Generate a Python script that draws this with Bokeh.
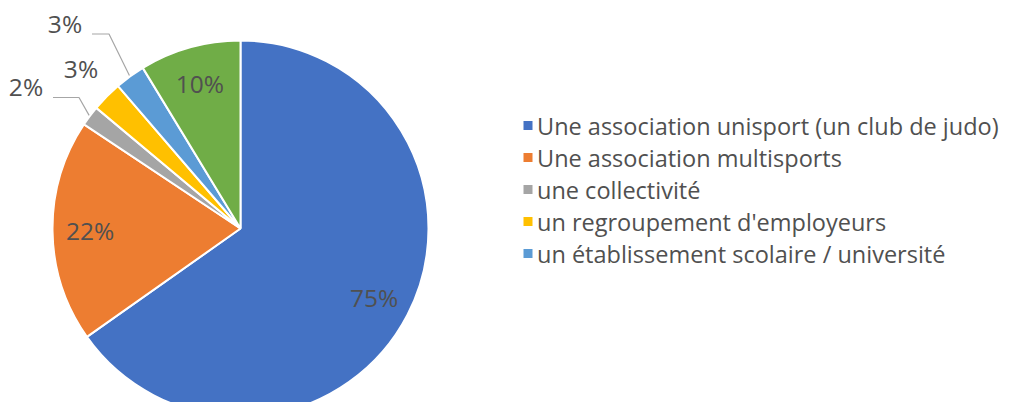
import numpy as np
from bokeh.plotting import figure
from bokeh.models import Range1d
from bokeh.core.properties import value
from bokeh.embed import file_html
from bokeh.resources import INLINE

categories = ["Une association unisport (un club de judo)", "Une association multisports",
              "une collectivité", "un regroupement d'employeurs",
              "un établissement scolaire / université", "autre"]
values = [75, 22, 2, 3, 3, 10]
pct_labels = ["75%", "22%", "2%", "3%", "3%", "10%"]
colors = ["#4472C4", "#ED7D31", "#A5A5A5", "#FFC000", "#5B9BD5", "#70AD47"]
legend_count = 5  # the green slice has no legend entry in the source

W, H = 1006, 402
# data coords: x = picture pixel x, y = 410 - picture pixel y
def Y(py):
    return 410 - py

p = figure(width=W, height=H, output_backend="svg", toolbar_location=None,
           x_range=Range1d(0, W), y_range=Range1d(410 - H, 410),
           min_border=0)
p.axis.visible = False
p.grid.visible = False
p.outline_line_color = None
p.background_fill_color = "white"

cx, cy, r = 240, Y(228), 188
vals = np.array(values, dtype=float)
frac = vals / vals.sum()
cum = np.concatenate([[0], np.cumsum(frac)])
start = np.pi / 2 - 2 * np.pi * cum[:-1]
end = np.pi / 2 - 2 * np.pi * cum[1:]
mid = (start + end) / 2

p.wedge(x=cx, y=cy, radius=r, start_angle=start, end_angle=end, direction="clock",
        fill_color=colors, line_color="white", line_width=2)

font = value("Open Sans")
txt_color = "#505050"
lab_size = "24.5px"

# inside labels
inside = [0, 1, 5]
lx = [cx + 0.8 * r * np.cos(mid[i]) for i in inside]
ly = [cy + 0.8 * r * np.sin(mid[i]) for i in inside]
p.text(x=lx, y=ly, text=[pct_labels[i] for i in inside], text_align="center",
       text_baseline="middle", text_font=font, text_font_size=lab_size, text_color=txt_color)

# outside labels (offsets from pie centre, in px)
outside = {2: (-214.5, 142), 3: (-159.5, 160.5), 4: (-175.5, 205.5)}
ox = [cx + outside[i][0] for i in outside]
oy = [cy + outside[i][1] for i in outside]
p.text(x=ox, y=oy, text=[pct_labels[i] for i in outside], text_align="center",
       text_baseline="middle", text_font=font, text_font_size=lab_size, text_color=txt_color)

# leader lines for slices 2 and 4
for i, knee_len in [(2, 26), (4, 17)]:
    x0 = cx + outside[i][0] + 27
    y0 = cy + outside[i][1] - 11
    ex = cx + (r + 1) * np.cos(mid[i])
    ey = cy + (r + 1) * np.sin(mid[i])
    p.line(x=[x0, x0 + knee_len, ex], y=[y0, y0, ey], line_color="#A6A6A6", line_width=1.2)

# legend
leg_x, leg_y0, leg_dy = 527.5, Y(125), 32
ly_leg = [leg_y0 - k * leg_dy for k in range(legend_count)]
p.scatter(x=[leg_x] * legend_count, y=ly_leg, marker="square", size=9,
          fill_color=colors[:legend_count], line_color=None)
p.text(x=[leg_x + 9] * legend_count, y=ly_leg, text=categories[:legend_count],
       text_align="left", text_baseline="middle", text_font=font,
       text_font_size="23.5px", text_color=txt_color)

open("out.html", "w").write(file_html(p, INLINE))
